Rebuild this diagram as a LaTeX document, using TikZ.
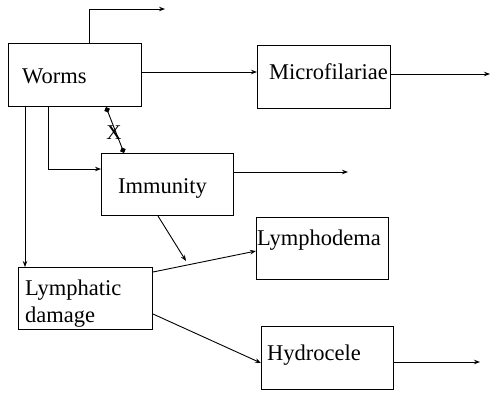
\documentclass[tikz,border=0pt]{standalone}
\usepackage{fontspec}
\setmainfont{Liberation Serif}
\usetikzlibrary{arrows.meta}
\begin{document}
\begin{tikzpicture}[x=1pt,y=-1pt,
  box/.style={draw,line width=1pt,inner sep=0pt,anchor=north west},
  lbl/.style={inner sep=0pt,anchor=base west,font=\fontsize{22.5}{27}\selectfont},
  conn/.style={line width=0.9pt,-{Stealth[length=6pt,width=4.5pt]}},
  link/.style={line width=0.9pt,{Turned Square[length=6pt,width=6pt]}-{Turned Square[length=6pt,width=6pt]}}]
\useasboundingbox (0,0) rectangle (490,392);
% boxes
\node[box,minimum width=133pt,minimum height=63pt] (worms) at (8,43) {};
\node[box,minimum width=133pt,minimum height=63pt] (micro) at (257,45) {};
\node[box,minimum width=132pt,minimum height=62pt] (immu) at (101,153) {};
\node[box,minimum width=134pt,minimum height=62pt] (lymd) at (18,267) {};
\node[box,minimum width=132pt,minimum height=62pt] (lymph) at (256,217) {};
\node[box,minimum width=132pt,minimum height=63pt] (hydro) at (261,326) {};
% labels
\node[lbl] (tworms) at (22,83) {Worms};
\node[lbl] (tmicro) at (269,79) {Microfilariae};
\node[lbl] (timmu) at (118,193) {Immunity};
\node[lbl,align=left] (tlymd) at (25,322) {Lymphatic\\damage};
\node[lbl] (tlymph) at (257,245) {Lymphodema};
\node[lbl] (thydro) at (267,360) {Hydrocele};
% free ends
\coordinate (top) at (165,9);
\coordinate (microout) at (490,74);
\coordinate (immuout) at (348,172);
\coordinate (immudown) at (186,261);
\coordinate (hydroout) at (480,362);
% connectors
\draw[conn] (worms.north west) ++(81,0) |- (top);
\draw[conn] (141,72) -- (micro.west |- 0,72);
\draw[conn] (micro.east |- 0,74) -- (microout);
\draw[conn] (worms.south west) ++(40,0) |- (immu.west |- 0,169);
\draw[conn] (worms.south west) ++(17,0) -- (lymd.north west -| 25,0);
\draw[conn] (immu.east |- 0,172) -- (immuout);
\draw[conn] (immu.south west) ++(57,0) -- (immudown);
\draw[conn] (lymd.east |- 0,272) -- (lymph.west |- 0,251);
\draw[conn] (lymd.east |- 0,314) -- (hydro.west |- 0,363);
\draw[conn] (hydro.east |- 0,362) -- (hydroout);
\draw[link] (worms.south west) ++(98,0) -- ([xshift=23pt]immu.north west);
\node[inner sep=0pt,font=\fontsize{21}{24}\selectfont] (xl) at (114,133) {X};
\end{tikzpicture}
\end{document}
